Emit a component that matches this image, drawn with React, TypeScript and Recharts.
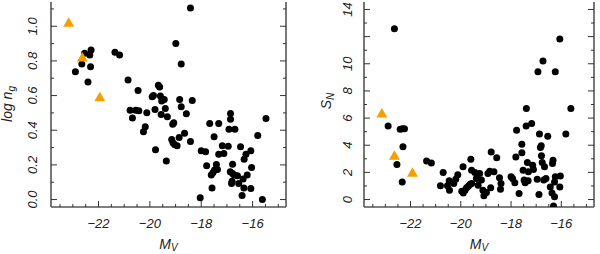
import { ScatterChart, Scatter, XAxis, YAxis } from 'recharts';

const FONT = '"Liberation Sans", Arial, Helvetica, sans-serif';
const INK = '#222';
const ORANGE = '#F5A000';
const FRAME = '#555';

// left panel: log n_g against M_V
const ngDotMv = [
  -18.42, -22.9, -22.65, -22.54, -22.29, -22.34, -22.31, -22.41, -21.36, -21.18,
  -20.85, -20.46, -20.77, -20.68, -20.55, -20.43, -20.12, -20.18, -20.25, -19.91,
  -19.86, -19.8, -19.67, -19.62, -19.59, -19.54, -19.44, -19.4, -19.56, -19.32,
  -19.78, -19.36, -19.11, -19.07, -18.99, -18.78, -18.84, -18.78, -18.35, -18.58,
  -18.65, -18.86, -19.15, -19.1, -19.04, -18.94, -18.42, -18.04, -18.0, -17.83,
  -17.79, -17.67, -17.5, -17.61, -17.54, -17.41, -17.37, -17.48, -17.58, -17.32,
  -17.32, -17.18, -17.12, -16.95, -16.86, -16.86, -16.92, -16.69, -16.78, -16.87,
  -16.78, -16.72, -16.82, -16.8, -16.59, -16.47, -16.54, -16.41, -16.34, -16.33,
  -16.26, -16.21, -16.37, -16.07, -16.07, -16.04, -15.62, -15.8, -15.48,
];
const ngDotLog = [
  1.106, 0.738, 0.782, 0.844, 0.863, 0.834, 0.767, 0.678, 0.85, 0.834,
  0.69, 0.63, 0.516, 0.47, 0.516, 0.513, 0.501, 0.42, 0.391, 0.593,
  0.601, 0.52, 0.659, 0.649, 0.597, 0.568, 0.578, 0.526, 0.491, 0.478,
  0.287, 0.222, 0.435, 0.443, 0.9, 0.782, 0.578, 0.536, 0.572, 0.495,
  0.382, 0.358, 0.347, 0.328, 0.318, 0.31, 0.335, 0.01, 0.281, 0.276,
  0.195, 0.439, 0.362, 0.141, 0.156, 0.202, 0.173, 0.17, 0.067, 0.439,
  0.262, 0.31, 0.266, 0.308, 0.497, 0.464, 0.405, 0.405, 0.204, 0.16,
  0.15, 0.141, 0.092, 0.106, 0.137, 0.304, 0.092, 0.023, 0.066, 0.233,
  0.262, 0.141, 0.118, 0.281, 0.064, 0.185, 0.0, 0.37, 0.468,
];
const ngTriMv = [-23.16, -22.63, -21.95];
const ngTriLog = [1.02, 0.82, 0.59];

// right panel: S_N against M_V
const snDotMv = [
  -22.64, -22.89, -22.41, -22.32, -22.24, -22.3, -22.54, -22.33, -21.36, -21.17,
  -20.81, -20.7, -20.53, -20.46, -20.45, -20.28, -20.2, -20.12, -19.91, -19.96,
  -19.9, -19.83, -19.77, -19.7, -19.64, -19.57, -19.6, -19.57, -19.44, -19.38,
  -19.31, -19.25, -19.18, -19.12, -19.08, -18.98, -18.92, -18.85, -18.81, -18.79,
  -18.68, -18.57, -18.46, -18.4, -18.42, -18.0, -17.94, -17.85, -17.81, -17.78,
  -17.68, -17.57, -17.57, -17.52, -17.48, -17.44, -17.39, -17.4, -17.35, -17.31,
  -17.32, -17.18, -17.14, -17.11, -16.96, -16.93, -16.89, -16.87, -16.83, -16.8,
  -16.79, -16.76, -16.73, -16.7, -16.67, -16.61, -16.54, -16.44, -16.37, -16.35,
  -16.33, -16.27, -16.24, -16.24, -16.27, -16.31, -16.06, -16.04, -16.06, -15.82,
  -15.62,
];
const snDotSn = [
  12.58, 5.41, 5.18, 5.21, 5.21, 3.88, 2.58, 1.3, 2.83, 2.7,
  1.01, 1.99, 1.01, 1.38, 0.69, 1.18, 1.5, 1.82, 2.41, 0.61,
  0.49, 0.69, 0.86, 0.98, 1.11, 1.18, 2.97, 2.16, 1.99, 1.55,
  1.06, 1.92, 1.43, 0.69, 0.27, 0.52, 1.92, 2.09, 0.86, 3.51,
  2.04, 3.07, 1.6, 1.18, 0.76, 1.67, 1.55, 1.23, 3.14, 5.11,
  0.44, 3.44, 4.08, 2.16, 1.43, 1.23, 6.71, 5.41, 2.73, 2.04,
  1.38, 5.6, 2.53, 2.21, 1.5, 9.41, 0.37, 4.82, 3.83, 3.96,
  3.22, 2.73, 10.2, 1.43, 2.41, 1.55, 4.67, 0.93, 0.49, 2.65,
  2.9, 1.3, 1.67, 9.41, 0.2, -0.47, 11.82, 1.74, 0.93, 4.82,
  6.71,
];
const snTriMv = [-23.14, -22.64, -21.92];
const snTriSn = [6.34, 3.22, 1.97];

// tick values
const mvTicks = [-23.5, -23, -22.5, -22, -21.5, -21, -20.5, -20, -19.5, -19, -18.5, -18, -17.5, -17, -16.5, -16, -15.5, -15];
const ngTicks = [0, 0.1, 0.2, 0.3, 0.4, 0.5, 0.6, 0.7, 0.8, 0.9, 1.0, 1.1];
const snTicks = [0, 1, 2, 3, 4, 5, 6, 7, 8, 9, 10, 11, 12, 13, 14];
const snLabels = [0, 2, 4, 6, 8, 10, 14];

const zip = (xs: number[], ys: number[]) => xs.map((x, i) => ({ x, y: ys[i] }));

const mvMajor = (v: number) => Math.abs(v) % 2 === 0;
const fmtMv = (v: number) => (v < 0 ? '\u2212' + Math.abs(v) : String(v));

const dot = (p: any) => <circle cx={p.cx} cy={p.cy} r={3.5} fill="#000" />;
const tri = (p: any) => (
  <polygon
    points={`${p.cx},${p.cy - 5.5} ${p.cx - 5.5},${p.cy + 4} ${p.cx + 5.5},${p.cy + 4}`}
    fill={ORANGE}
  />
);

function Panel({ geo, domainY, yTicks, yMajor, yLabel, fmtY, dots, tris, title }: any) {
  const W = 300;
  const H = 254;
  const bottomTick = (p: any) => {
    const v = p.payload.value;
    const m = mvMajor(v);
    return (
      <g>
        <line x1={p.x} x2={p.x} y1={geo.bottom} y2={geo.bottom - (m ? 6 : 3)} stroke="#333" />
        {m && (
          <text x={p.x} y={228} textAnchor="middle" fontSize={13} fontStyle="italic" fontFamily={FONT} fill={INK}>
            {fmtMv(v)}
          </text>
        )}
      </g>
    );
  };
  const topTick = (p: any) => {
    const m = mvMajor(p.payload.value);
    return <line x1={p.x} x2={p.x} y1={geo.top} y2={geo.top + (m ? 6 : 3)} stroke="#333" />;
  };
  const leftTick = (p: any) => {
    const v = p.payload.value;
    const m = yMajor(v);
    const lab = yLabel(v);
    return (
      <g>
        <line x1={geo.left} x2={geo.left + (m ? 6 : 3)} y1={p.y} y2={p.y} stroke="#333" />
        {lab && (
          <text
            x={geo.yLab}
            y={p.y}
            transform={`rotate(-90, ${geo.yLab}, ${p.y})`}
            textAnchor="middle"
            fontSize={13}
            fontStyle="italic"
            fontFamily={FONT}
            fill={INK}
          >
            {fmtY(v)}
          </text>
        )}
      </g>
    );
  };
  const rightTick = (p: any) => {
    const m = yMajor(p.payload.value);
    return <line x1={geo.right} x2={geo.right - (m ? 6 : 3)} y1={p.y} y2={p.y} stroke="#333" />;
  };
  const cx = (geo.left + geo.right) / 2;
  const cy = title.y;
  return (
    <div style={{ position: 'relative', width: W, height: H }}>
      <ScatterChart width={W} height={H} margin={{ top: geo.top, right: 0, bottom: 0, left: 0 }}>
        <XAxis
          xAxisId="b"
          type="number"
          dataKey="x"
          domain={[-23.85, -14.7]}
          allowDataOverflow
          ticks={mvTicks}
          interval={0}
          tick={bottomTick}
          tickLine={false}
          height={H - geo.bottom}
          axisLine={{ stroke: FRAME, strokeWidth: 1.6 }}
        />
        <XAxis
          xAxisId="t"
          orientation="top"
          type="number"
          dataKey="x"
          domain={[-23.85, -14.7]}
          allowDataOverflow
          ticks={mvTicks}
          interval={0}
          tick={topTick}
          tickLine={false}
          height={0}
          axisLine={{ stroke: FRAME, strokeWidth: 1.6 }}
        />
        <YAxis
          yAxisId="l"
          type="number"
          dataKey="y"
          domain={domainY}
          allowDataOverflow
          ticks={yTicks}
          interval={0}
          tick={leftTick}
          tickLine={false}
          width={geo.left}
          axisLine={{ stroke: FRAME, strokeWidth: 1.6 }}
        />
        <YAxis
          yAxisId="r"
          orientation="right"
          type="number"
          dataKey="y"
          domain={domainY}
          allowDataOverflow
          ticks={yTicks}
          interval={0}
          tick={rightTick}
          tickLine={false}
          width={W - geo.right}
          axisLine={{ stroke: FRAME, strokeWidth: 1.6 }}
        />
        <Scatter xAxisId="t" yAxisId="r" data={[]} isAnimationActive={false} />
        <Scatter xAxisId="b" yAxisId="l" data={dots} shape={dot} isAnimationActive={false} />
        <Scatter xAxisId="b" yAxisId="l" data={tris} shape={tri} isAnimationActive={false} />
      </ScatterChart>
      <svg width={W} height={H} style={{ position: 'absolute', left: 0, top: 0, pointerEvents: 'none' }}>
        <text x={cx} y={249} textAnchor="middle" fontSize={14} fontStyle="italic" fontFamily={FONT} fill={INK}>
          M<tspan fontSize={10} dy={2}>V</tspan>
        </text>
        <text
          x={title.x}
          y={cy}
          transform={`rotate(-90, ${title.x}, ${cy})`}
          textAnchor="middle"
          fontSize={14}
          fontStyle="italic"
          fontFamily={FONT}
          fill={INK}
        >
          {title.main}
          <tspan fontSize={10} dy={3}>{title.sub}</tspan>
        </text>
      </svg>
    </div>
  );
}

export default function App() {
  return (
    <div style={{ position: 'absolute', left: 0, top: 0, width: 600, height: 254, display: 'flex', background: '#fff' }}>
      <Panel
        geo={{ left: 51, right: 286, top: 2, bottom: 207, yLab: 37 }}
        domainY={[-0.043, 1.14]}
        yTicks={ngTicks}
        yMajor={(v: number) => Math.round(v * 10) % 2 === 0}
        yLabel={(v: number) => Math.round(v * 10) % 2 === 0 && v < 1.05}
        fmtY={(v: number) => v.toFixed(1)}
        dots={zip(ngDotMv, ngDotLog)}
        tris={zip(ngTriMv, ngTriLog)}
        title={{ x: 12, y: 104, main: 'log n', sub: 'g' }}
      />
      <Panel
        geo={{ left: 64, right: 294, top: 2, bottom: 207, yLab: 52 }}
        domainY={[-0.55, 14.55]}
        yTicks={snTicks}
        yMajor={(v: number) => v % 2 === 0}
        yLabel={(v: number) => snLabels.includes(v)}
        fmtY={(v: number) => String(v)}
        dots={zip(snDotMv, snDotSn)}
        tris={zip(snTriMv, snTriSn)}
        title={{ x: 31, y: 101, main: 'S', sub: 'N' }}
      />
    </div>
  );
}
